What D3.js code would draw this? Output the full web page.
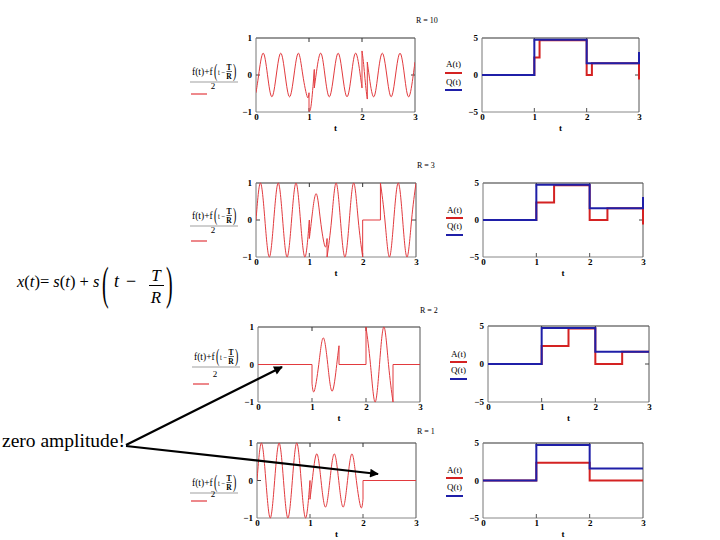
<!DOCTYPE html>
<html><head><meta charset="utf-8">
<script src="https://cdn.jsdelivr.net/npm/d3@7"></script>
<style>body{margin:0;background:#fff} svg{display:block} text{font-family:"Liberation Serif","Times New Roman",serif}</style>
</head><body><svg id="c" width="720" height="540"></svg>
<script>
// ---------- data ----------
const tTicks = [0, 1, 2, 3];
const waveTicks = [-1, 0, 1];
const stepTicks = [-5, 0, 5];
const rValues = [10, 3, 2, 1];

// (f(t)+f(t-T/R))/2 : extrema / zero crossings read per segment
const wave10 = [
  [[0,-0.48],[0.05,0],[0.133,0.59],[0.217,0],[0.3,-0.59],[0.383,0],[0.467,0.59],[0.55,0],[0.633,-0.59],[0.717,0],[0.8,0.59],[0.883,0],[0.967,-0.59],[1,-0.48]],
  [[1,-0.98],[1.025,-0.94],[1.05,-0.7],[1.075,-0.31],[1.1,0.15]],
  [[1.1,-0.35],[1.133,0],[1.217,0.59],[1.3,0],[1.383,-0.59],[1.467,0],[1.55,0.59],[1.633,0],[1.717,-0.59],[1.8,0],[1.883,0.59],[1.967,0],[2,-0.35]],
  [[2,0.65],[2.025,0.37],[2.05,0],[2.075,-0.37],[2.1,-0.65]],
  [[2.1,0.35],[2.133,0],[2.217,-0.59],[2.3,0],[2.383,0.59],[2.467,0],[2.55,-0.59],[2.633,0],[2.717,0.59],[2.8,0],[2.883,-0.59],[2.967,0],[3,0.35]]
];
const wave3 = [
  [[0,0],[0.083,1],[0.167,0],[0.25,-1],[0.333,0],[0.417,1],[0.5,0],[0.583,-1],[0.667,0],[0.75,1],[0.833,0],[0.917,-1],[1,0]],
  [[1,-0.5],[1.042,0],[1.125,0.71],[1.208,0],[1.292,-0.71],[1.333,-0.5]],
  [[1.333,-1],[1.417,0],[1.5,1],[1.583,0],[1.667,-1],[1.75,0],[1.833,1],[1.917,0],[2,-1]],
  [[2,0],[2.333,0]],
  [[2.333,1],[2.417,0],[2.5,-1],[2.583,0],[2.667,1],[2.75,0],[2.833,-1],[2.917,0],[3,1]]
];
const wave2 = [
  [[0,0],[1,0]],
  [[1,-0.5],[1.042,-0.71],[1.125,0],[1.208,0.71],[1.292,0],[1.375,-0.71],[1.458,0],[1.5,0.5]],
  [[1.5,0],[2,0]],
  [[2,1],[2.083,0],[2.167,-1],[2.25,0],[2.333,1],[2.417,0],[2.5,-1]],
  [[2.5,0],[3,0]]
];
const wave1 = [
  [[0,0],[0.083,1],[0.167,0],[0.25,-1],[0.333,0],[0.417,1],[0.5,0],[0.583,-1],[0.667,0],[0.75,1],[0.833,0],[0.917,-1],[1,0]],
  [[1,-0.5],[1.042,0],[1.125,0.71],[1.208,0],[1.292,-0.71],[1.375,0],[1.458,0.71],[1.542,0],[1.625,-0.71],[1.708,0],[1.792,0.71],[1.875,0],[1.958,-0.71],[2,-0.5]],
  [[2,0],[3,0]]
];

// A(t) and Q(t) step values [t, value]
const ampA10 = [[0,0],[1,2.38],[1.1,4.68],[2,0],[2.1,1.6],[3,1.6],[3,-0.6]];
const quadQ10 = [[0,0],[1,4.75],[2,1.6],[3,1.6],[3,3.1]];
const ampA3 = [[0,0],[1,2.38],[1.333,4.68],[2,0],[2.333,1.6],[3,1.6],[3,-0.6]];
const quadQ3 = [[0,0],[1,4.75],[2,1.6],[3,1.6],[3,3.1]];
const ampA2 = [[0,0],[1,2.38],[1.5,4.68],[2,0],[2.5,1.6],[3,1.6]];
const quadQ2 = [[0,0],[1,4.75],[2,1.6],[3,1.6]];
const ampA1 = [[0,0],[1,2.38],[2,0],[3,0]];
const quadQ1 = [[0,0],[1,4.75],[2,1.6],[3,1.6]];

// ---------- layout ----------
const panels = [
  {R: rValues[0], wave: wave10, A: ampA10, Q: quadQ10,
   L:{x0:256,x1:415,y0:38,y1:112}, S:{x0:482,x1:639,y0:38,y1:112},
   title:[416,23], eq:{x:192,b:75,two:89,red:94}, leg:{x:445,a:67,r:73,q:85,bl:90}},
  {R: rValues[1], wave: wave3, A: ampA3, Q: quadQ3,
   L:{x0:256,x1:416,y0:183,y1:257}, S:{x0:483,x1:643,y0:183,y1:257},
   title:[417,168], eq:{x:192,b:219,two:233,red:241}, leg:{x:446,a:213,r:218,q:229,bl:235}},
  {R: rValues[2], wave: wave2, A: ampA2, Q: quadQ2,
   L:{x0:258,x1:420,y0:327,y1:402}, S:{x0:488,x1:649,y0:326,y1:402},
   title:[420,313], eq:{x:194,b:360,two:377,red:384}, leg:{x:450,a:357,r:362,q:373,bl:379}},
  {R: rValues[3], wave: wave1, A: ampA1, Q: quadQ1,
   L:{x0:257,x1:416,y0:443,y1:518}, S:{x0:483,x1:643,y0:443,y1:518},
   title:[417,434], eq:{x:192,b:486,two:497,red:501}, leg:{x:446,a:473,r:478,q:490,bl:496}}
];

const SERIF = "Liberation Serif, Times New Roman, serif";
const WAVE_RED = "#e23a3e", STEP_RED = "#d42222", STEP_BLUE = "#1f1fa8";
const svg = d3.select("#c");
const defs = svg.append("defs");
defs.append("marker").attr("id","ah").attr("viewBox","0 0 10 10").attr("refX",9).attr("refY",5)
  .attr("markerWidth",5).attr("markerHeight",4).attr("orient","auto").attr("markerUnits","strokeWidth")
  .append("path").attr("d","M0,0L10,5L0,10z").attr("fill","#000");

function frame(g, B, xs, ys, zeroVal){
  g.append("line").attr("x1",B.x0).attr("x2",B.x1).attr("y1",B.y0).attr("y2",B.y0).attr("stroke","#333").attr("stroke-width",1.2);
  g.append("line").attr("x1",B.x0).attr("x2",B.x1).attr("y1",B.y1).attr("y2",B.y1).attr("stroke","#888");
  g.append("line").attr("x1",B.x0).attr("x2",B.x0).attr("y1",B.y0).attr("y2",B.y1).attr("stroke","#777");
  g.append("line").attr("x1",B.x1).attr("x2",B.x1).attr("y1",B.y0).attr("y2",B.y1).attr("stroke","#555");
  [1,2].forEach(t=>{
    g.append("line").attr("x1",xs(t)).attr("x2",xs(t)).attr("y1",B.y0).attr("y2",B.y0+4).attr("stroke","#333");
    g.append("line").attr("x1",xs(t)).attr("x2",xs(t)).attr("y1",B.y1).attr("y2",B.y1-4).attr("stroke","#555");
  });
  g.append("line").attr("x1",B.x0).attr("x2",B.x0+4).attr("y1",ys(zeroVal)).attr("y2",ys(zeroVal)).attr("stroke","#444");
  g.append("line").attr("x1",B.x1-4).attr("x2",B.x1).attr("y1",ys(zeroVal)).attr("y2",ys(zeroVal)).attr("stroke","#444");
}

function axes(g, B, xs, ys, yTicks){
  const ax = g.append("g").attr("transform",`translate(0,${B.y1})`)
    .call(d3.axisBottom(xs).tickValues(tTicks).tickSize(0).tickPadding(2).tickFormat(d3.format("d")));
  ax.select(".domain").remove();
  ax.attr("font-family",SERIF).attr("font-size",9);
  ax.selectAll("text").attr("fill","#000").attr("font-weight","bold");
  const ay = g.append("g").attr("transform",`translate(${B.x0},0)`)
    .call(d3.axisLeft(ys).tickValues(yTicks).tickSize(0).tickPadding(4).tickFormat(d3.format("d")));
  ay.select(".domain").remove();
  ay.attr("font-family",SERIF).attr("font-size",9);
  ay.selectAll("text").attr("fill","#000").attr("font-weight","bold");
  g.append("text").attr("x",(B.x0+B.x1)/2).attr("y",B.y1+19).attr("text-anchor","middle")
    .attr("font-size",9).attr("font-weight","bold").text("t");
}

// tall, thin parenthesis: small glyph stretched vertically
function tallParen(g, ch, x, y, size, sy){
  g.append("text").attr("transform",`translate(${x},${y}) scale(1,${sy})`)
    .attr("font-family",SERIF).attr("font-size",size).text(ch);
}

panels.forEach((p,i)=>{
  const g = svg.append("g");
  // ----- left chart -----
  const xL = d3.scaleLinear().domain([0,3]).range([p.L.x0,p.L.x1]);
  const yL = d3.scaleLinear().domain([-1,1]).range([p.L.y1,p.L.y0]);
  defs.append("clipPath").attr("id","cl"+i).append("rect")
    .attr("x",p.L.x0).attr("y",p.L.y0-1).attr("width",p.L.x1-p.L.x0).attr("height",p.L.y1-p.L.y0+2);
  frame(g, p.L, xL, yL, 0);
  const wl = d3.line().x(d=>xL(d[0])).y(d=>yL(d[1])).curve(d3.curveNatural);
  const jl = d3.line().x(d=>xL(d[0])).y(d=>yL(d[1]));
  const wg = g.append("g").attr("clip-path",`url(#cl${i})`);
  p.wave.forEach((seg,k)=>{
    wg.append("path").attr("d",wl(seg)).attr("fill","none").attr("stroke",WAVE_RED).attr("stroke-width",1);
    if(k>0){
      const prev = p.wave[k-1];
      wg.append("path").attr("d",jl([prev[prev.length-1],seg[0]])).attr("fill","none").attr("stroke",WAVE_RED).attr("stroke-width",1);
    }
  });
  axes(g, p.L, xL, yL, waveTicks);

  // ----- right chart -----
  const xS = d3.scaleLinear().domain([0,3]).range([p.S.x0,p.S.x1]);
  const yS = d3.scaleLinear().domain([-5,5]).range([p.S.y1,p.S.y0]);
  frame(g, p.S, xS, yS, 0);
  const sl = d3.line().x(d=>xS(d[0])).y(d=>yS(d[1])).curve(d3.curveStepAfter);
  g.append("path").attr("d",sl(p.A)).attr("fill","none").attr("stroke",STEP_RED).attr("stroke-width",2);
  g.append("path").attr("d",sl(p.Q)).attr("fill","none").attr("stroke",STEP_BLUE).attr("stroke-width",2);
  axes(g, p.S, xS, yS, stepTicks);

  // ----- title -----
  g.append("text").attr("x",p.title[0]).attr("y",p.title[1]).attr("font-size",8).text("R = " + p.R);

  // ----- left legend (expression) -----
  const e = p.eq;
  g.append("text").attr("x",e.x).attr("y",e.b).attr("font-size",9.5).text("f(t)+f");
  tallParen(g, "(", e.x+22, e.b+2, 10, 1.9);
  g.append("text").attr("x",e.x+26).attr("y",e.b).attr("font-size",8.5).attr("textLength",7)
    .attr("lengthAdjust","spacingAndGlyphs").text("t −");
  g.append("text").attr("x",e.x+37).attr("y",e.b-5).attr("font-size",7.5).attr("font-weight","bold")
    .attr("text-anchor","middle").text("T");
  g.append("line").attr("x1",e.x+34.5).attr("x2",e.x+40).attr("y1",e.b-3.5).attr("y2",e.b-3.5).attr("stroke","#222").attr("stroke-width",0.7);
  g.append("text").attr("x",e.x+37).attr("y",e.b+4).attr("font-size",7.5).attr("font-weight","bold")
    .attr("text-anchor","middle").text("R");
  tallParen(g, ")", e.x+41, e.b+2, 10, 1.9);
  g.append("line").attr("x1",e.x-2).attr("x2",e.x+46).attr("y1",e.b+7).attr("y2",e.b+7).attr("stroke","#777").attr("stroke-width",0.7);
  g.append("text").attr("x",e.x+21).attr("y",e.two).attr("font-size",9).attr("text-anchor","middle").text("2");
  g.append("line").attr("x1",e.x-1).attr("x2",e.x+15).attr("y1",e.red).attr("y2",e.red).attr("stroke",WAVE_RED).attr("stroke-width",1.2);

  // ----- right legend -----
  const l = p.leg;
  g.append("text").attr("x",l.x+8.5).attr("y",l.a).attr("font-size",9).attr("text-anchor","middle").text("A(t)");
  g.append("line").attr("x1",l.x).attr("x2",l.x+17).attr("y1",l.r).attr("y2",l.r).attr("stroke",STEP_RED).attr("stroke-width",2);
  g.append("text").attr("x",l.x+8.5).attr("y",l.q).attr("font-size",9).attr("text-anchor","middle").text("Q(t)");
  g.append("line").attr("x1",l.x).attr("x2",l.x+17).attr("y1",l.bl).attr("y2",l.bl).attr("stroke",STEP_BLUE).attr("stroke-width",2);
});

// ---------- formula ----------
const f = svg.append("g").attr("fill","#000");
const ft = f.append("text").attr("x",17).attr("y",287).attr("font-family",SERIF).attr("font-size",16.5);
[["x",1],["(",0],["t",1],[")= ",0],["s",1],["(",0],["t",1],[") + ",0],["s",1]].forEach(([s,it])=>{
  ft.append("tspan").attr("font-style",it?"italic":"normal").text(s);
});
tallParen(f, "(", 102, 299, 20, 2.3);
f.append("text").attr("x",114).attr("y",287).attr("font-family",SERIF).attr("font-size",18).attr("font-style","italic").text("t");
f.append("text").attr("x",126).attr("y",287).attr("font-family",SERIF).attr("font-size",18).text("−");
f.append("text").attr("x",156).attr("y",281).attr("font-family",SERIF).attr("font-size",17).attr("font-style","italic").attr("text-anchor","middle").text("T");
f.append("line").attr("x1",149).attr("x2",164).attr("y1",285.5).attr("y2",285.5).attr("stroke","#000").attr("stroke-width",1);
f.append("text").attr("x",156).attr("y",303).attr("font-family",SERIF).attr("font-size",17).attr("font-style","italic").attr("text-anchor","middle").text("R");
tallParen(f, ")", 166, 299, 20, 2.3);

// ---------- annotation ----------
svg.append("text").attr("x",2).attr("y",447).attr("font-family",SERIF).attr("font-size",18).attr("textLength",123)
  .attr("lengthAdjust","spacingAndGlyphs").text("zero amplitude!");
svg.append("line").attr("x1",126).attr("y1",445).attr("x2",282).attr("y2",367)
  .attr("stroke","#000").attr("stroke-width",2.2).attr("marker-end","url(#ah)");
svg.append("line").attr("x1",126).attr("y1",446).attr("x2",378).attr("y2",474)
  .attr("stroke","#000").attr("stroke-width",2.2).attr("marker-end","url(#ah)");
</script>
</body></html>
